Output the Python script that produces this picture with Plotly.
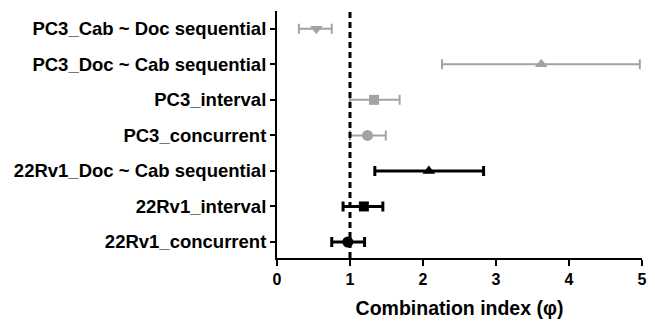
import plotly.graph_objects as go

categories = ["22Rv1_concurrent", "22Rv1_interval", "22Rv1_Doc ~ Cab sequential",
              "PC3_concurrent", "PC3_interval", "PC3_Doc ~ Cab sequential", "PC3_Cab ~ Doc sequential"]
ci_mean = [0.97, 1.19, 2.08, 1.24, 1.33, 3.62, 0.54]
ci_low = [0.75, 0.905, 1.34, 1.0, 1.0, 2.26, 0.30]
ci_high = [1.20, 1.45, 2.83, 1.49, 1.68, 4.97, 0.75]
symbols = ["circle", "square", "triangle-up", "circle", "square", "triangle-up", "triangle-down"]
groups = ["22Rv1", "22Rv1", "22Rv1", "PC3", "PC3", "PC3", "PC3"]

colors = {"22Rv1": "#000000", "PC3": "#a3a3a3"}
thick = {"22Rv1": 3, "PC3": 2}
msize = {"circle": 11, "square": 10, "triangle-up": 11, "triangle-down": 11}

fig = go.Figure()
for i, cat in enumerate(categories):
    g = groups[i]
    fig.add_trace(go.Scatter(
        x=[ci_mean[i]], y=[i], mode="markers",
        marker=dict(symbol=symbols[i], size=msize[symbols[i]], color=colors[g]),
        error_x=dict(type="data", symmetric=False,
                     array=[ci_high[i] - ci_mean[i]],
                     arrayminus=[ci_mean[i] - ci_low[i]],
                     color=colors[g], thickness=thick[g], width=5),
        showlegend=False))

fig.add_shape(type="line", x0=1, x1=1, xref="x", y0=0, y1=1, yref="paper",
              line=dict(color="black", width=3, dash="6px,4px"))

fam = "Liberation Sans, Arial, sans-serif"
fig.update_layout(
    width=655, height=326,
    margin=dict(l=277, r=8, t=11, b=68),
    plot_bgcolor="white", paper_bgcolor="white",
    font=dict(family=fam, color="black", weight="bold"),
    xaxis=dict(range=[0, 5], tickvals=[0, 1, 2, 3, 4, 5], showline=True, linecolor="black",
               linewidth=2, ticks="outside", ticklen=6, tickwidth=2, tickcolor="black",
               showgrid=False, zeroline=False,
               tickfont=dict(size=16, family=fam, weight="bold", color="black"),
               title=dict(text="Combination index (φ)",
                          font=dict(size=19.5, family=fam, weight="bold", color="black"),
                          standoff=14)),
    yaxis=dict(range=[-0.45, 6.5], tickvals=list(range(len(categories))),
               ticktext=categories,
               showline=True, linecolor="black", linewidth=2, ticks="outside",
               ticklen=5, tickwidth=2, tickcolor="black", showgrid=False, zeroline=False,
               tickfont=dict(size=18.5, family=fam, weight="bold", color="black")),
)
fig.write_html("out.html")
